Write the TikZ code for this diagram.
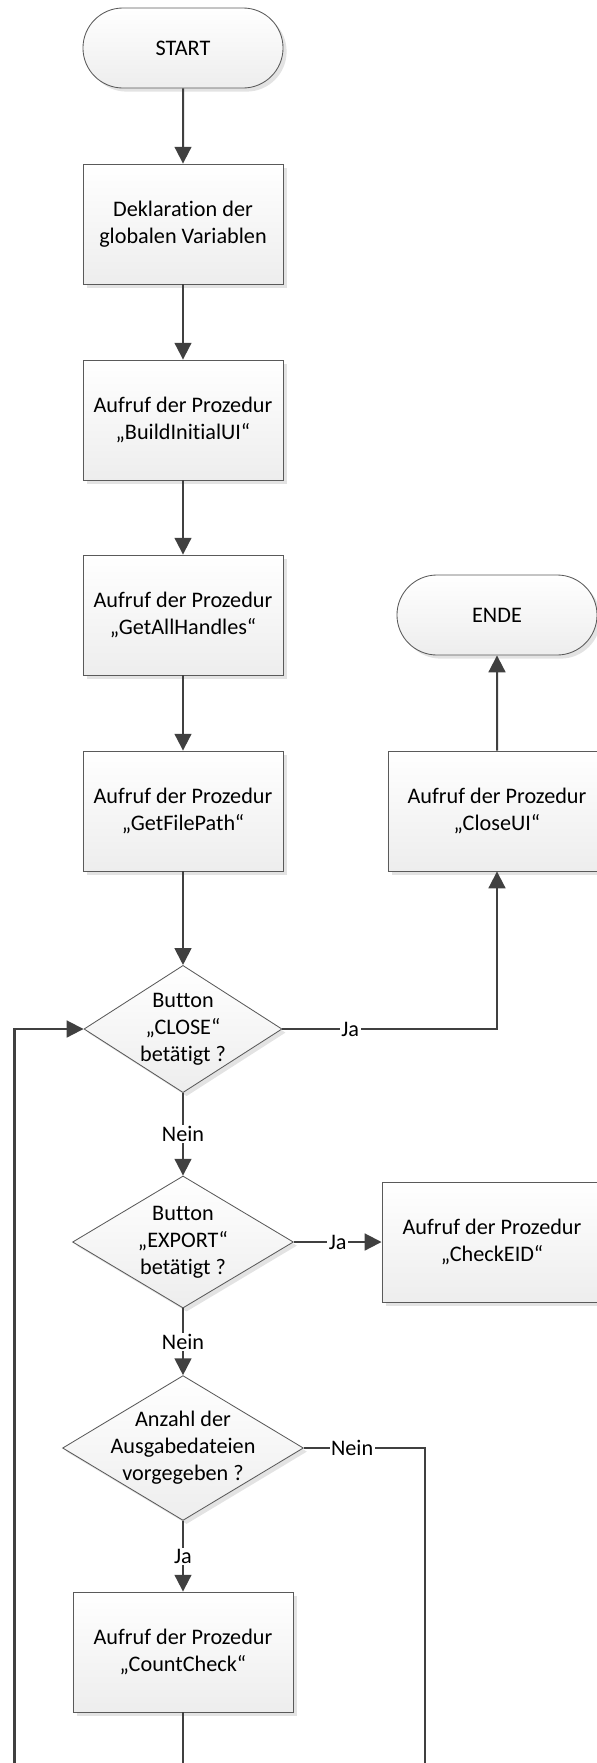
\documentclass[tikz,border=0pt]{standalone}
\usepackage{fontspec}
\setmainfont[Ligatures=NoCommon]{Carlito}
\usepackage{xcolor}
\usepackage{tikz}
\usetikzlibrary{shapes.geometric,shapes.misc,shadows,arrows.meta}

\definecolor{linegray}{HTML}{404040}
\definecolor{edgegray}{HTML}{5A5A5A}

\begin{document}
\begin{tikzpicture}[x=0.025cm, y=-0.025cm,
    every node/.style={font=\fontsize{15.8}{19.2}\selectfont, align=center},
    shapebase/.style={draw=edgegray, line width=0.6pt, top color=white, bottom color=black!7,
      drop shadow={shadow xshift=0.09cm, shadow yshift=-0.09cm, fill=black!11, opacity=1}},
    terminal/.style={shapebase, rounded rectangle, minimum width=5cm, minimum height=2cm, inner sep=0pt},
    process/.style={shapebase, rectangle, minimum width=5cm, minimum height=3cm},
    decision/.style={shapebase, diamond, inner sep=0pt},
    flow/.style={draw=linegray, line width=0.05cm, -{Triangle[length=0.42cm, width=0.42cm]}},
    wire/.style={draw=linegray, line width=0.05cm},
    lbl/.style={fill=white, inner sep=1pt}]
        \useasboundingbox (0,0) rectangle (597,1763);

        % Main column
        \node[terminal] (start) at (183,48) {START};
        \node[process] (decl) at (183,224) {Deklaration der\\globalen Variablen};
        \node[process] (build) at (183,420) {Aufruf der Prozedur\\„BuildInitialUI“};
        \node[process] (handles) at (183,615) {Aufruf der Prozedur\\„GetAllHandles“};
        \node[process] (path) at (183,811) {Aufruf der Prozedur\\„GetFilePath“};

        % Decisions
        \node[decision, minimum width=4.95cm, minimum height=3.18cm,
              label={center:Button\\„CLOSE“\\betätigt ?}] (close) at (183,1029) {};
        \node[decision, minimum width=5.52cm, minimum height=3.3cm,
              label={center:Button\\„EXPORT“\\betätigt ?}] (export) at (183,1242) {};
        \node[decision, minimum width=6.02cm, minimum height=3.62cm,
              label={center:Anzahl der\\Ausgabedateien\\vorgegeben ?}] (count) at (183,1448) {};
        \node[process, minimum width=5.5cm] (countcheck) at (183,1652) {Aufruf der Prozedur\\„CountCheck“};

        % Right column
        \node[terminal] (ende) at (497,615) {ENDE};
        \node[process, minimum width=5.45cm] (closeui) at (497,811) {Aufruf der Prozedur\\„CloseUI“};
        \node[process, minimum width=5.5cm] (checkeid) at (492,1242) {Aufruf der Prozedur\\„CheckEID“};

        % Loose ends running off the bottom
        \coordinate (loopend) at (14.5,1775);
        \coordinate (midend) at (183,1775);
        \coordinate (rightend) at (424.6,1775);

        % Connections
        \draw[flow] (start) -- (decl);
        \draw[flow] (decl) -- (build);
        \draw[flow] (build) -- (handles);
        \draw[flow] (handles) -- (path);
        \draw[flow] (path) -- (close);
        \draw[flow] (close.east) -| node[lbl, pos=0.158] {Ja} (closeui.south);
        \draw[flow] (closeui) -- (ende);
        \draw[flow] (close) -- node[lbl] {Nein} (export);
        \draw[flow] (export) -- node[lbl] {Ja} (checkeid);
        \draw[flow] (export) -- node[lbl] {Nein} (count);
        \draw[flow] (count) -- node[lbl] {Ja} (countcheck);
        \draw[wire] (count.east) -| node[lbl, pos=0.2] {Nein} (rightend);
        \draw[wire] (countcheck) -- (midend);
        \draw[flow] (loopend) |- (close.west);
\end{tikzpicture}
\end{document}
